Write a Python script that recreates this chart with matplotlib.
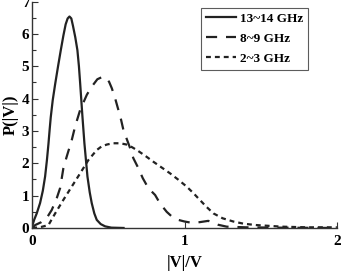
import matplotlib
matplotlib.use("Agg")
import matplotlib.pyplot as plt
from matplotlib.ticker import MultipleLocator

plt.rcParams['font.family'] = ['Liberation Serif', 'DejaVu Serif']
plt.rcParams['font.weight'] = 'bold'

# 13~14 GHz (solid)
x_hi = [0, 0.013, 0.03, 0.052, 0.07, 0.085, 0.097, 0.107, 0.115, 0.122, 0.135,
        0.151, 0.17, 0.188, 0.205, 0.22, 0.233, 0.245, 0.257, 0.268, 0.283,
        0.297, 0.307, 0.315, 0.33, 0.343, 0.363, 0.378, 0.391, 0.408, 0.424,
        0.45, 0.479, 0.52, 0.6]
y_hi = [0.05, 0.25, 0.45, 0.77, 1.15, 1.59, 2.1, 2.6, 3.05, 3.42, 3.95,
        4.45, 5.0, 5.5, 5.95, 6.3, 6.48, 6.54, 6.48, 6.25, 5.9,
        5.5, 5.0, 4.48, 3.45, 2.62, 1.59, 1.1, 0.77, 0.45, 0.25,
        0.12, 0.05, 0.01, 0.0]

# 8~9 GHz (dashed)
x_mid = [0, 0.02, 0.06, 0.096, 0.129, 0.162, 0.184, 0.205, 0.227, 0.26, 0.282,
         0.315, 0.359, 0.391, 0.428, 0.46, 0.485, 0.505, 0.523, 0.544, 0.566,
         0.584, 0.599, 0.621, 0.643, 0.664, 0.697, 0.726, 0.763, 0.807, 0.839,
         0.883, 0.92, 0.959, 1.0, 1.047, 1.1, 1.156, 1.22, 1.277, 1.4, 1.6,
         2.0]
y_mid = [0.0, 0.09, 0.18, 0.31, 0.56, 0.93, 1.24, 1.85, 2.21, 2.72, 3.14,
         3.65, 4.12, 4.37, 4.6, 4.67, 4.65, 4.52, 4.32, 4.02, 3.65,
         3.34, 3.03, 2.75, 2.47, 2.16, 1.85, 1.54, 1.23, 1.02, 0.76,
         0.5, 0.34, 0.25, 0.2, 0.16, 0.18, 0.22, 0.1, 0.04, 0.02, 0.01,
         0.0]

# 2~3 GHz (dotted)
x_lo = [0, 0.05, 0.107, 0.151, 0.205, 0.26, 0.315, 0.369, 0.424, 0.455, 0.49,
        0.53, 0.577, 0.62, 0.655, 0.687, 0.74, 0.795, 0.85, 0.905, 0.96,
        1.014, 1.06, 1.1, 1.145, 1.19, 1.25, 1.32, 1.39, 1.47, 1.64, 1.8,
        2.0]
y_lo = [0.0, 0.02, 0.09, 0.45, 0.87, 1.28, 1.69, 2.1, 2.41, 2.52, 2.58,
        2.62, 2.62, 2.58, 2.5, 2.41, 2.24, 2.05, 1.87, 1.69, 1.49,
        1.28, 1.07, 0.87, 0.65, 0.45, 0.3, 0.2, 0.13, 0.09, 0.04, 0.02,
        0.02]

fig = plt.figure(figsize=(3.42, 2.74), dpi=100)
ax = fig.add_axes([0.094, 0.168, 0.891, 0.826])

ax.plot(x_hi, y_hi, color='#222222', lw=1.6, ls='-', label='13~14 GHz')
ax.plot(x_mid, y_mid, color='#222222', lw=1.6, ls=(0, (5, 4)), label='8~9 GHz')
ax.plot(x_lo, y_lo, color='#222222', lw=1.6, ls=(0, (2.2, 1.8)), label='2~3 GHz')

ax.set_xlim(0, 2)
ax.set_ylim(0, 7)
ax.xaxis.set_major_locator(MultipleLocator(1))
ax.yaxis.set_major_locator(MultipleLocator(1))
ax.yaxis.set_minor_locator(MultipleLocator(0.5))
ax.tick_params(which='both', direction='in', labelsize=11, width=0.8,
               color='#333333')
ax.tick_params(which='major', length=4)
ax.tick_params(which='minor', length=3)
ax.tick_params(axis='y', pad=2)
ax.tick_params(axis='x', pad=5)
for lbl in ax.get_xticklabels() + ax.get_yticklabels():
    lbl.set_fontweight('bold')

ax.spines['top'].set_visible(False)
ax.spines['right'].set_visible(False)
for s in ('left', 'bottom'):
    ax.spines[s].set_linewidth(1.0)
    ax.spines[s].set_color('#333333')

ax.set_xlabel('|V|/V', fontsize=12, fontweight='bold', labelpad=5)
ax.set_ylabel('P(|V|)', fontsize=12, fontweight='bold', labelpad=2)

leg = ax.legend(loc='upper right', bbox_to_anchor=(0.905, 0.973),
                prop={'weight': 'bold', 'size': 9.5}, frameon=True,
                fancybox=False, handlelength=2.3, handletextpad=0.3,
                borderpad=0.35, labelspacing=0.6, borderaxespad=0)
leg.get_frame().set_edgecolor('#333333')
leg.get_frame().set_linewidth(0.8)

fig.savefig('out.png', dpi=100)
